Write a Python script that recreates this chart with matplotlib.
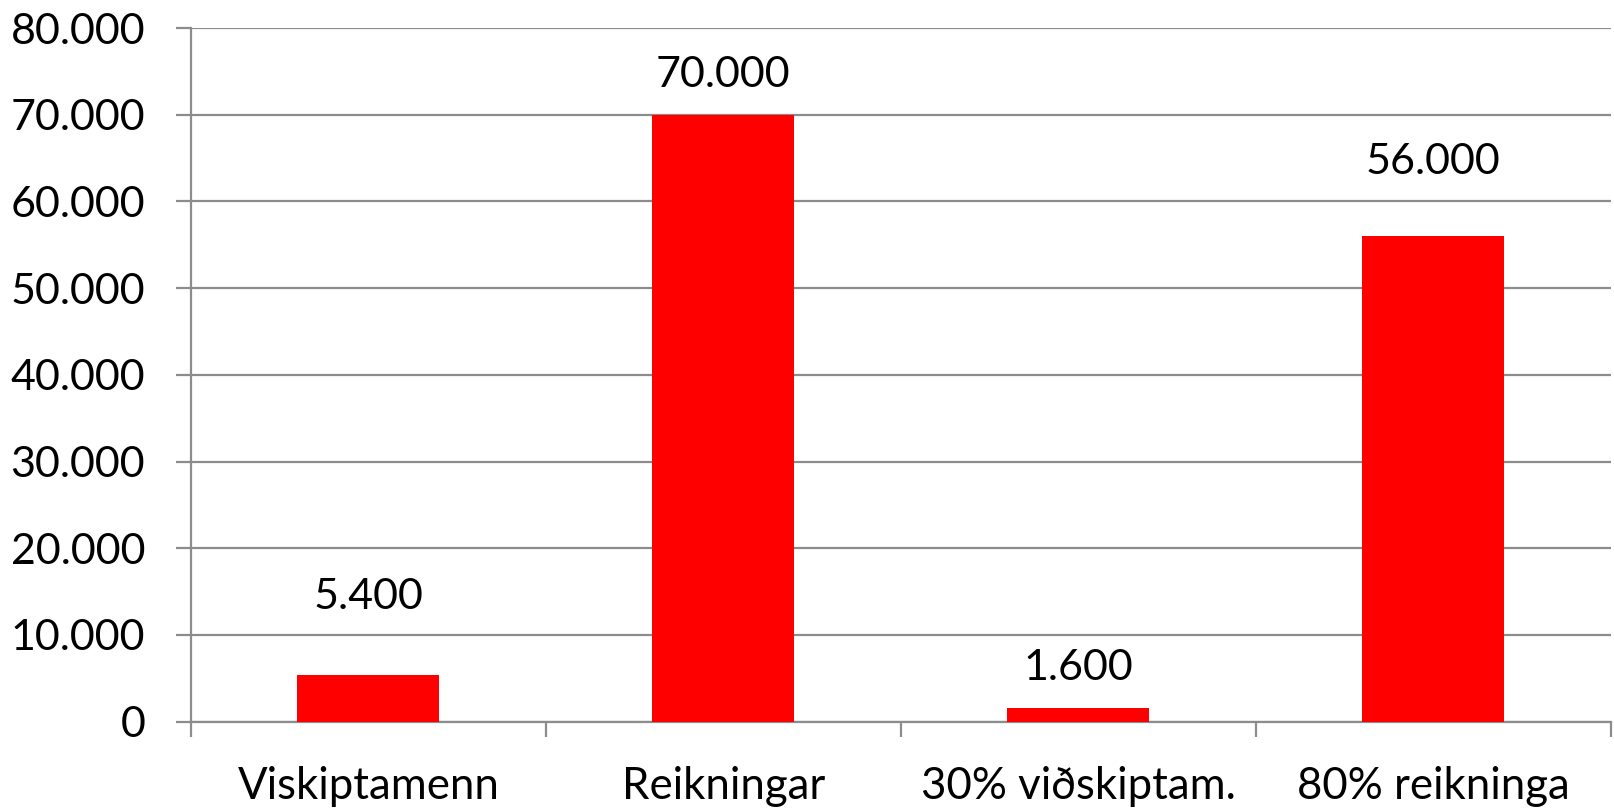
import matplotlib
matplotlib.use("Agg")
import matplotlib.pyplot as plt
from matplotlib.ticker import FuncFormatter, MultipleLocator

categories = ["Viskiptamenn", "Reikningar", "30% viðskiptam.", "80% reikninga"]
values = [5400, 70000, 1600, 56000]
label_offsets_px = [78, 40, 40, 74]

plt.rcParams['font.family'] = ['Lato', 'DejaVu Sans']

fig = plt.figure(figsize=(16.15, 8.08), dpi=100)
ax = fig.add_axes([191/1615, 1-721.7/808, (1610.7-191)/1615, (721.7-28)/808])

def fmt(v):
    return f"{int(round(v)):,}".replace(",", ".")

x = list(range(len(categories)))
ax.bar(x, values, width=0.4, color="#ff0000", zorder=3)
ax.set_xlim(-0.5, len(categories) - 0.5)
ax.set_ylim(0, 80000)
ax.yaxis.set_major_locator(MultipleLocator(10000))
ax.yaxis.set_major_formatter(FuncFormatter(lambda v, p: fmt(v)))

grid_c = "#8c8c8c"
ax.grid(axis="y", color=grid_c, linewidth=1.6, zorder=0)
ax.set_axisbelow(True)
for s in ["top", "right"]:
    ax.spines[s].set_visible(False)
for s in ["left", "bottom"]:
    ax.spines[s].set_color(grid_c)
    ax.spines[s].set_linewidth(1.6)

ax.set_xticks([i + 0.5 for i in range(-1, len(categories))], minor=False)
ax.set_xticklabels([])
ax.set_xticks(x, minor=True)
ax.set_xticklabels(categories, minor=True)
ax.tick_params(axis="x", which="major", length=11, width=1.6, color=grid_c, direction="out")
ax.tick_params(axis="x", which="minor", length=0, pad=32, labelsize=31.5)
ax.tick_params(axis="y", length=11, width=1.6, color=grid_c, direction="out", pad=22, labelsize=31)

for xi, v, off in zip(x, values, label_offsets_px):
    ax.annotate(fmt(v), (xi, v), xytext=(0, off * 72 / 100), textcoords="offset points",
                ha="center", va="center", fontsize=31)

fig.savefig("out.png", dpi=100)
